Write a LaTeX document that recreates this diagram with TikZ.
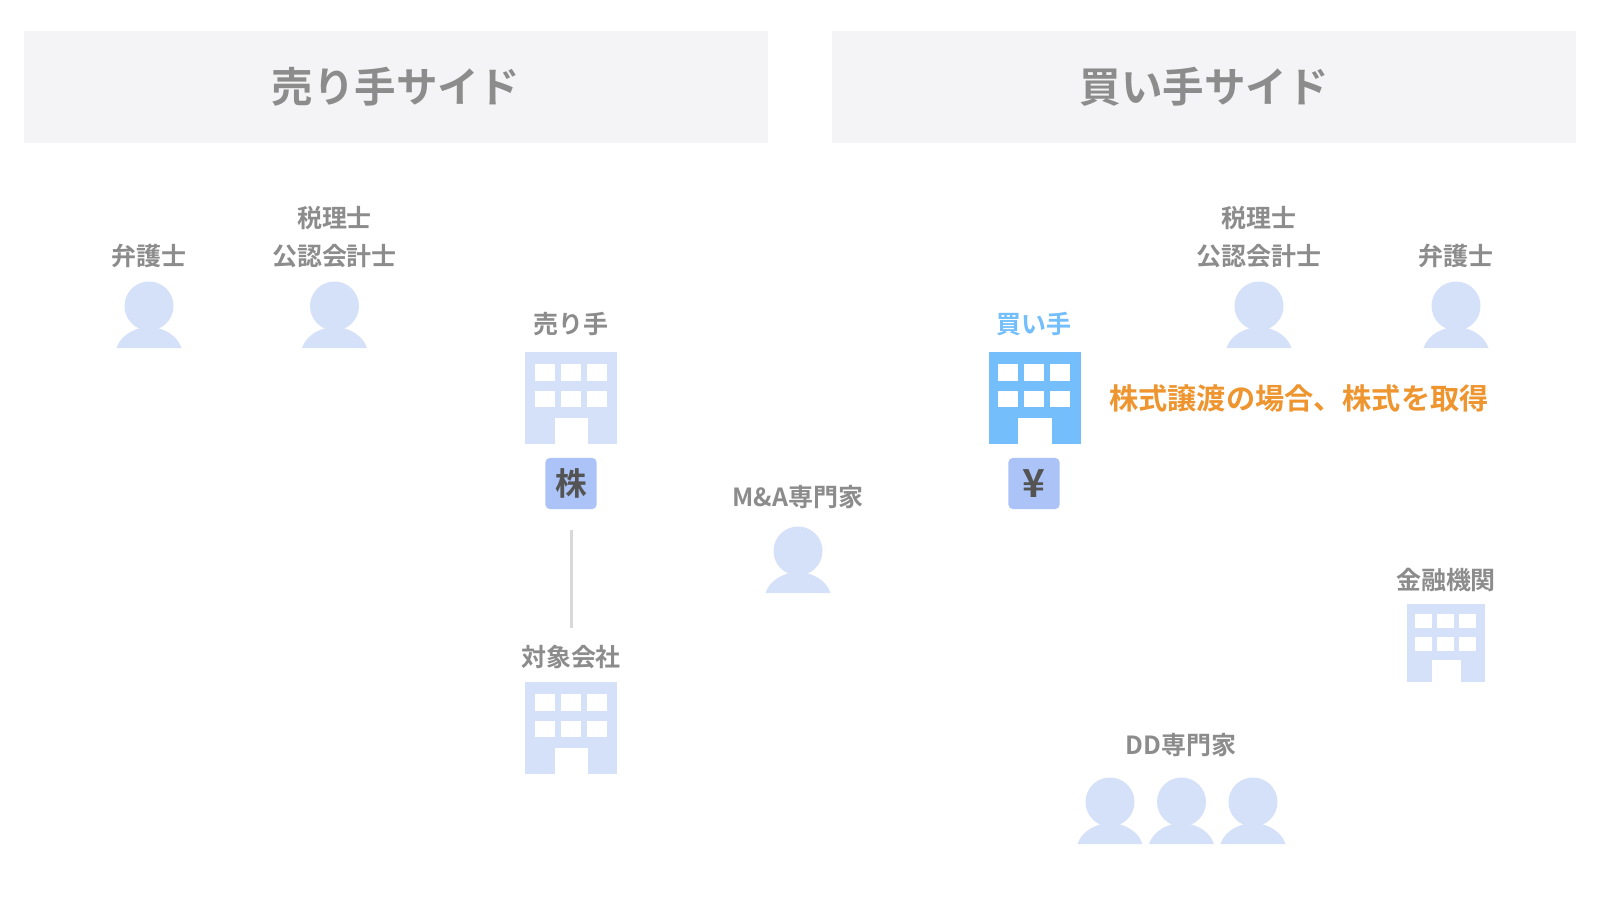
\documentclass[tikz,border=0pt]{standalone}
\usepackage{fontspec}
\setmainfont{Noto Sans CJK JP Bold}
\usepackage{tikz}
\definecolor{headbg}{HTML}{F4F4F6}
\definecolor{labelgray}{HTML}{8C8C8C}
\definecolor{iconblue}{HTML}{D5E1F9}
\definecolor{buyerblue}{HTML}{73BEFB}
\definecolor{tagblue}{HTML}{ABC3F6}
\definecolor{accentorange}{HTML}{EE9530}
\tikzset{
  header/.style={fill=headbg, minimum width=7.44cm, minimum height=1.12cm, text=labelgray, font=\fontsize{11.8}{14}\selectfont},
  label/.style={text=labelgray, inner sep=0pt, font=\fontsize{7.1}{9}\selectfont},
  tag/.style={fill=tagblue, rounded corners=1.2pt, minimum size=0.51cm, inner sep=0pt, text=black!67, font=\fontsize{9}{11}\selectfont},
  pics/person/.style={code={
    \fill[iconblue] (0,0) circle (24.5);
    \fill[iconblue] (-32.5,42) .. controls (-28,28) and (-12,21) .. (0,21) .. controls (12,21) and (28,28) .. (32.5,42) -- cycle;
  }},
  pics/office/.style={code={
    % origin is the top left corner, size 92
    \fill[#1] (0,0) rectangle (92,92);
    \foreach \x in {9.7,35.7,61.7} \foreach \y in {12,38.7}
      \fill[white] (\x,\y) rectangle ++(20,16.7);
    \fill[white] (29.5,66.3) rectangle (63.3,92);
  }},
}
\begin{document}
\begin{tikzpicture}[x=0.01cm, y=-0.01cm]
    \useasboundingbox[fill=white] (0,0) rectangle (1600,900);

    % headers
    \node[header] (seller side) at (396,87) {売り手サイド};
    \node[header] (buyer side) at (1204,87) {買い手サイド};

    % seller advisers
    \node[label] (seller lawyer) at (149,256) {弁護士};
    \pic at (149,306) {person};
    \node[label] (seller tax) at (334.5,218.5) {税理士};
    \node[label] (seller cpa) at (334.5,256) {公認会計士};
    \pic at (334.5,306) {person};

    % seller and target
    \node[label] (seller) at (571,324) {売り手};
    \pic at (525,352) {office=iconblue};
    \node[tag] (stock) at (571,483.5) {株};
    \node[label] (target) at (571,657) {対象会社};
    \pic at (525,682) {office=iconblue};
    \draw[line width=0.85pt, color=black!15]
      ([yshift=-0.2cm]stock.south) -- ([yshift=0.16cm]target.north);

    % adviser in the middle
    \node[label] (ma expert) at (798,497) {M\&A専門家};
    \pic at (798,551) {person};

    % buyer
    \node[label, text=buyerblue] (buyer) at (1034,324) {買い手};
    \pic at (988.5,352) {office=buyerblue};
    \node[tag, font=\fontsize{11}{13}\selectfont] (cash) at (1034,483.5) {¥};
    \node[text=accentorange, inner sep=0pt, font=\fontsize{8.3}{10}\selectfont] (note) at (1299,398.5) {株式譲渡の場合、株式を取得};

    % buyer advisers
    \node[label] (buyer tax) at (1259,218.5) {税理士};
    \node[label] (buyer cpa) at (1259,256) {公認会計士};
    \pic at (1259,306) {person};
    \node[label] (buyer lawyer) at (1456,256) {弁護士};
    \pic at (1456,306) {person};

    % bank
    \node[label] (bank) at (1446,580) {金融機関};
    \pic[scale=0.848] at (1407,604) {office=iconblue};

    % due diligence
    \node[label] (dd expert) at (1181,745) {DD専門家};
    \foreach \x in {1110,1181.5,1253}
      \pic at (\x,802) {person};
\end{tikzpicture}
\end{document}
